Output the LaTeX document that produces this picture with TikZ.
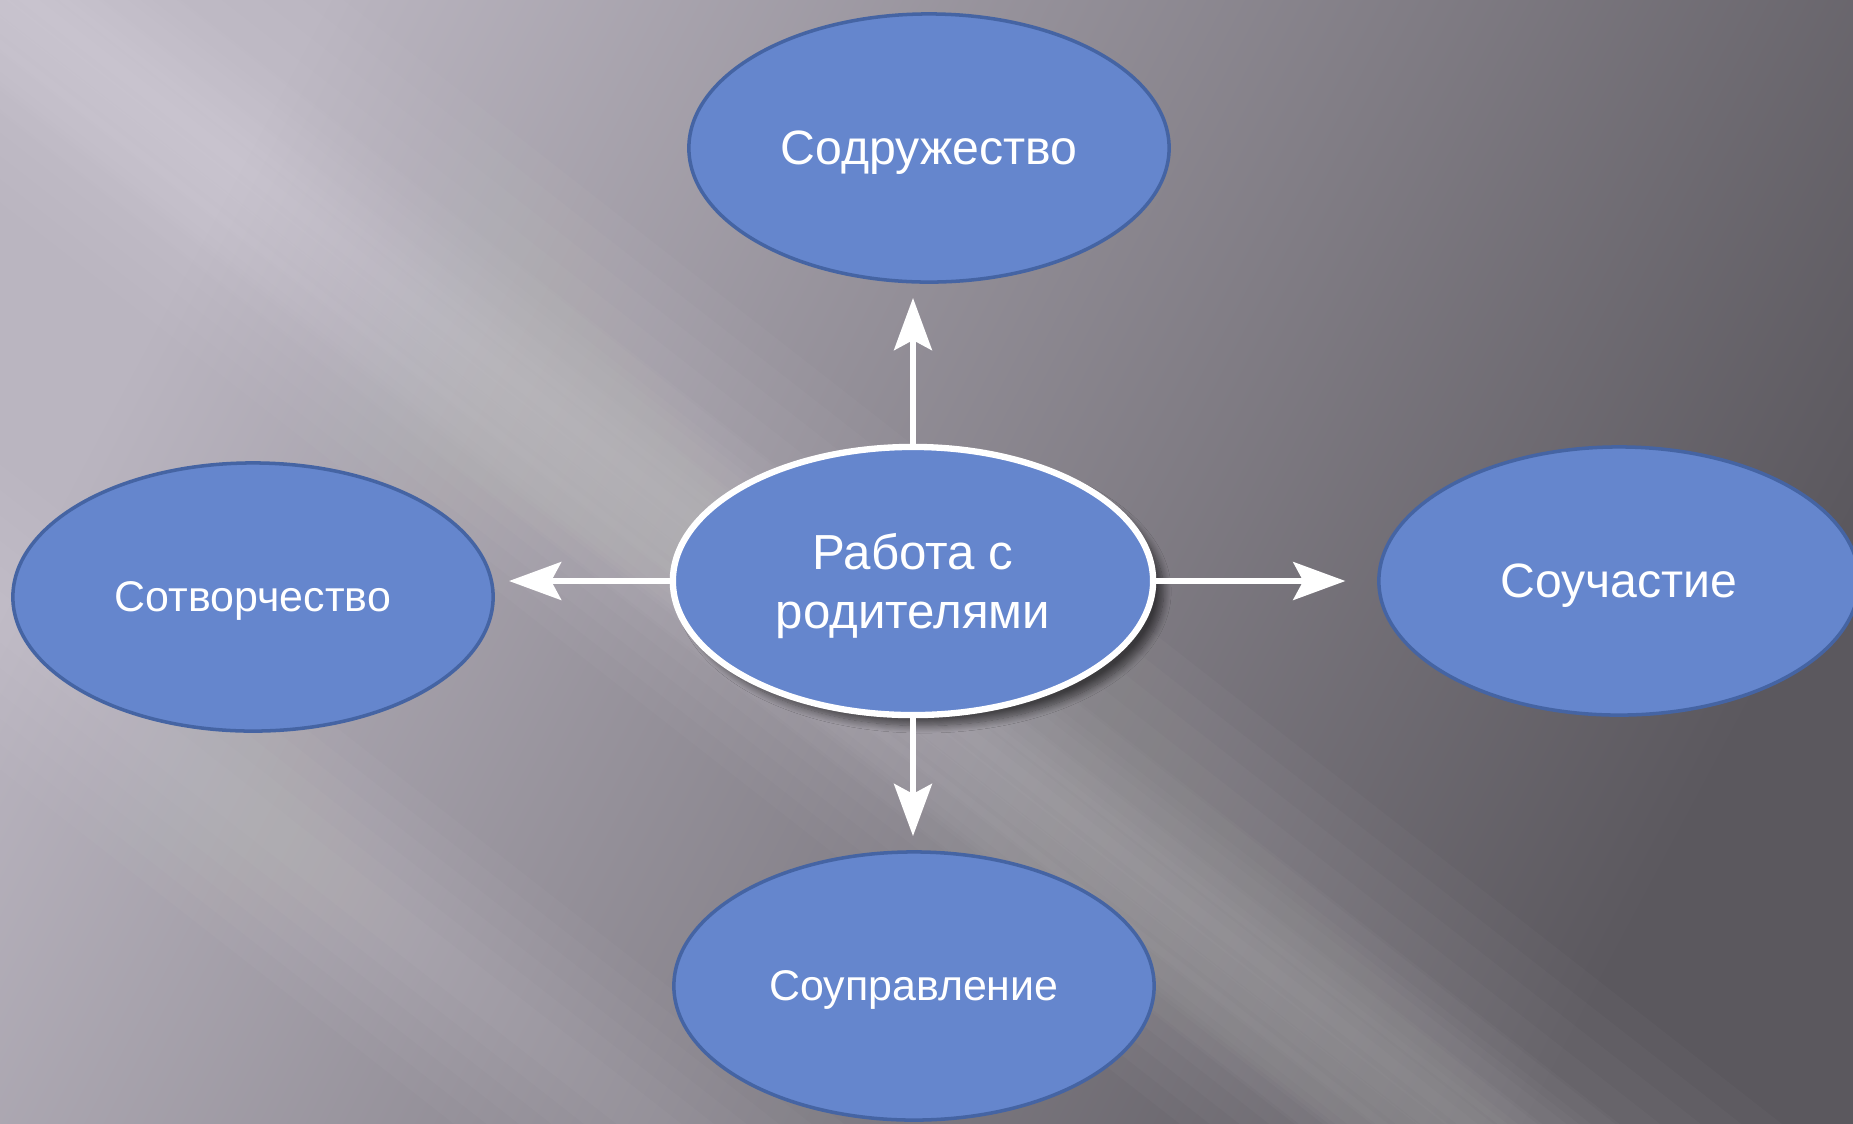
\documentclass[tikz,border=0pt]{standalone}
\usepackage{fontspec}
\setmainfont{Liberation Sans}
\usetikzlibrary{shapes.geometric}
\usetikzlibrary{arrows.meta}
\usetikzlibrary{shadows.blur}

\definecolor{bgLight}{HTML}{BAB5C0}
\definecolor{bgMid}{HTML}{858189}
\definecolor{bgDark}{HTML}{5B585E}
\definecolor{ovalFill}{HTML}{6586CD}
\definecolor{ovalLine}{HTML}{4564A3}

\tikzset{
  oval/.style={ellipse, fill=ovalFill, draw=ovalLine, line width=1pt,
    minimum width=4.8cm, minimum height=2.68cm, inner sep=0pt,
    text depth=0pt, text=white, align=center},
  hub/.style={oval, draw=white, line width=1.8pt,
    blur shadow={shadow xshift=3pt, shadow yshift=-3pt, shadow blur steps=12, shadow opacity=55}},
  arr/.style={white, line width=1.9pt,
    -{Stealth[length=14.8pt, width=10.7pt, inset=2.8pt]}},
}

\begin{document}
\begin{tikzpicture}[x=0.01cm, y=-0.01cm]
\useasboundingbox (0,0) rectangle (1853,1123);
\clip (0,0) rectangle (1853,1123);
% background
\shade[top color=bgLight, middle color=bgMid, bottom color=bgDark, shading angle=62]
  (0,0) rectangle (1853,1123);
\foreach \bx/\by/\bw in {330/180/150, 560/500/110, 260/820/120, 1080/820/90} {
  \foreach \k in {1,...,6}
    \fill[white, opacity=.025, rotate around={-38:(\bx,\by)}]
      (\bx-2600,\by-\bw*\k/6) rectangle (\bx+2600,\by+\bw*\k/6);
}

\node[hub, font=\fontsize{14}{17}\selectfont] (ctr) at (913,581) {Работа с\\родителями};
\node[oval, font=\fontsize{13.7}{16}\selectfont] (top) at (929,148) {Содружество};
\node[oval, font=\fontsize{12.2}{14}\selectfont] (lft) at (253,597) {Сотворчество};
\node[oval, font=\fontsize{13.7}{16}\selectfont] (rgt) at (1619,581) {Соучастие};
\node[oval, font=\fontsize{12.2}{14}\selectfont] (bot) at (914,986) {Соуправление};

\draw[arr, shorten >=4pt] (ctr.north) -- (ctr.north |- top.south);
\draw[arr, shorten >=4pt] (ctr.south) -- (ctr.south |- bot.north);
\draw[arr, shorten >=4pt] (ctr.west) -- (ctr.west -| lft.east);
\draw[arr, shorten >=9pt] (ctr.east) -- (ctr.east -| rgt.west);
\end{tikzpicture}
\end{document}
